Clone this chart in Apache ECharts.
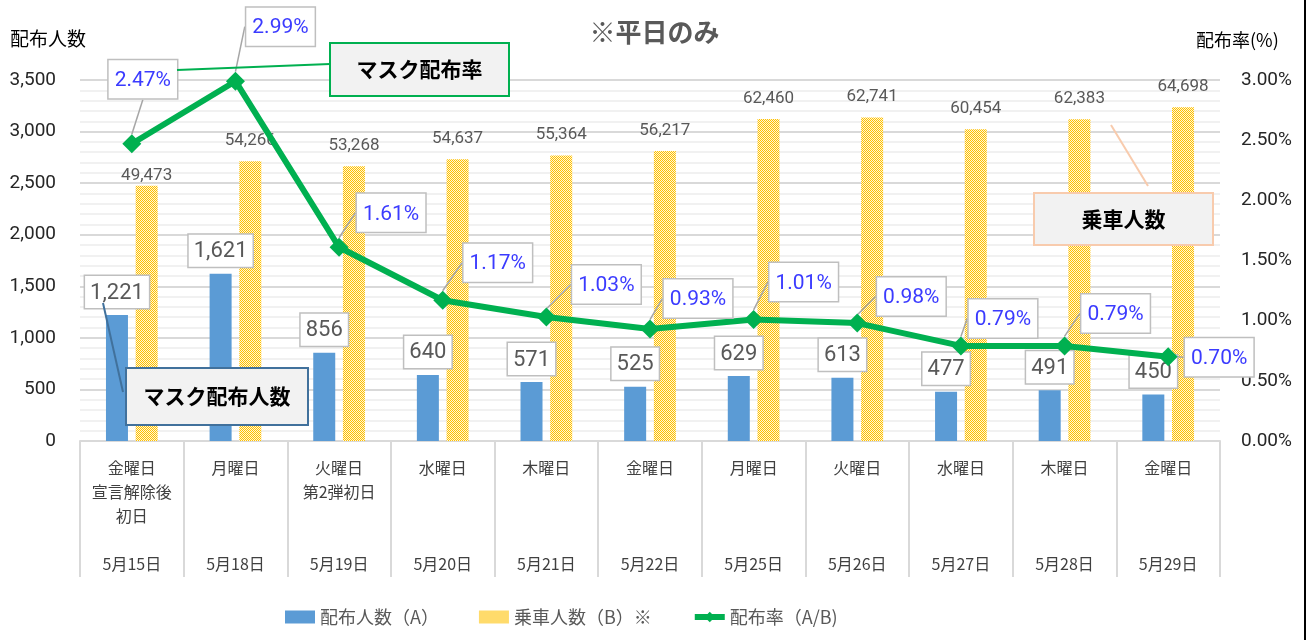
<!DOCTYPE html>
<html>
<head>
<meta charset="utf-8">
<title>マスク配布</title>
<script src="https://cdn.jsdelivr.net/npm/echarts@6/dist/echarts.min.js"></script>
<style>
    html, body { margin: 0; padding: 0; background: #fff; }
    #chart { width: 1309px; height: 644px; }
</style>
</head>
<body>
<div id="chart"></div>
<script>
    // データ
    const dates = ['5月15日', '5月18日', '5月19日', '5月20日', '5月21日', '5月22日', '5月25日', '5月26日', '5月27日', '5月28日', '5月29日'];
    const days = ['金曜日\n宣言解除後\n初日', '月曜日', '火曜日\n第2弾初日', '水曜日', '木曜日', '金曜日', '月曜日', '火曜日', '水曜日', '木曜日', '金曜日'];
    const maskCount = [1221, 1621, 856, 640, 571, 525, 629, 613, 477, 491, 450];
    const riders = [49473, 54266, 53268, 54637, 55364, 56217, 62460, 62741, 60454, 62383, 64698];
    const rate = [2.47, 2.99, 1.61, 1.17, 1.03, 0.93, 1.01, 0.98, 0.79, 0.79, 0.70];
    const countTicks = { min: 0, max: 3500, interval: 500 };
    const rateTicks = { min: 0, max: 3, interval: 0.5 };

    const font = '"Noto Sans CJK JP", "Noto Sans", sans-serif';
    const numFont = 'Roboto, "Noto Sans", sans-serif';

    function comma(v) {
        return String(v).replace(/\B(?=(\d{3})+(?!\d))/g, ',');
    }

    // 乗車人数の網掛け
    const dots = document.createElement('canvas');
    dots.width = 2;
    dots.height = 2;
    const dctx = dots.getContext('2d');
    dctx.fillStyle = '#fff6d6';
    dctx.fillRect(0, 0, 2, 2);
    dctx.fillStyle = '#ffc000';
    dctx.fillRect(0, 0, 1, 1);
    dctx.fillRect(1, 1, 1, 1);

    // ラベルの位置調整 (点からのずれ)
    const rateShift = [[11, -65], [45, -55], [52, -35], [55, -38], [60, -33], [48, -31], [50, -38], [54, -27], [42, -28], [51, -33], [51, 0]];

    const chart = echarts.init(document.getElementById('chart'));

    function annotation(x, y, w, h, text, border) {
        return [
            {
                type: 'rect',
                z: 100,
                shape: { x: x, y: y, width: w, height: h },
                style: { fill: '#f2f2f2', stroke: border, lineWidth: 2 }
            },
            {
                type: 'text',
                z: 101,
                x: x + w / 2,
                y: y + h / 2,
                style: {
                    text: text,
                    fontSize: 21,
                    fontWeight: 'bold',
                    fontFamily: font,
                    fill: '#000',
                    align: 'center',
                    verticalAlign: 'middle'
                }
            }
        ];
    }

    chart.setOption({
        backgroundColor: '#fff',
        animation: false,
        title: {
            text: '※平日のみ',
            left: 'center',
            top: 14,
            textStyle: {
                fontSize: 26,
                fontWeight: 'bold',
                color: '#595959',
                fontFamily: font
            }
        },
        legend: {
            left: 280,
            top: 603,
            itemWidth: 30,
            itemHeight: 13,
            itemGap: 40,
            textStyle: {
                fontSize: 18,
                color: '#595959',
                fontFamily: font
            },
            data: [
                { name: '配布人数（A）', icon: 'rect' },
                { name: '乗車人数（B）※', icon: 'rect' },
                { name: '配布率（A/B)', lineStyle: { width: 6 } }
            ]
        },
        grid: {
            left: 80,
            right: 89,
            top: 80,
            bottom: 203
        },
        xAxis: {
            type: 'category',
            data: dates,
            axisLine: {
                lineStyle: { color: '#d9d9d9', width: 2 }
            },
            axisTick: {
                show: true,
                length: 136,
                lineStyle: { color: '#d9d9d9', width: 2 }
            },
            axisLabel: {
                margin: 15,
                interval: 0,
                fontSize: 16,
                lineHeight: 24,
                color: '#404040',
                fontFamily: font,
                formatter: function (value, index) {
                    const lines = days[index].split('\n');
                    while (lines.length < 4) {
                        lines.push('');
                    }
                    lines.push(value);
                    return lines.join('\n');
                }
            }
        },
        yAxis: [
            {
                type: 'value',
                min: countTicks.min,
                max: countTicks.max,
                interval: countTicks.interval,
                axisLine: { show: false },
                axisTick: { show: false },
                axisLabel: {
                    margin: 24,
                    fontSize: 19,
                    color: '#262626',
                    fontFamily: numFont,
                    formatter: comma
                },
                splitLine: {
                    lineStyle: { color: '#d9d9d9', width: 2 }
                },
                minorTick: { show: false, splitNumber: 5 },
                minorSplitLine: {
                    show: true,
                    lineStyle: { color: '#ededed', width: 1.5 }
                }
            },
            {
                type: 'value',
                position: 'right',
                min: rateTicks.min,
                max: rateTicks.max,
                interval: rateTicks.interval,
                axisLine: { show: false },
                axisTick: { show: false },
                splitLine: { show: false },
                axisLabel: {
                    margin: 21,
                    fontSize: 19,
                    color: '#262626',
                    fontFamily: numFont,
                    formatter: function (v) {
                        return v.toFixed(2) + '%';
                    }
                }
            },
            {
                type: 'value',
                show: false,
                min: 0,
                max: 70000,
                splitLine: { show: false }
            }
        ],
        series: [
            {
                name: '配布人数（A）',
                type: 'bar',
                yAxisIndex: 0,
                barWidth: 22,
                barGap: '35%',
                itemStyle: { color: '#5b9bd5' },
                label: {
                    show: true,
                    position: 'top',
                    distance: 7,
                    formatter: function (p) {
                        return comma(p.value);
                    },
                    fontSize: 22,
                    color: '#595959',
                    fontFamily: numFont,
                    backgroundColor: '#fff',
                    borderColor: '#bfbfbf',
                    borderWidth: 1.5,
                    padding: [6, 5, 4, 5]
                },
                data: maskCount
            },
            {
                name: '乗車人数（B）※',
                type: 'bar',
                yAxisIndex: 2,
                barWidth: 22,
                itemStyle: {
                    color: { image: dots, repeat: 'repeat' }
                },
                label: {
                    show: true,
                    position: 'top',
                    distance: 12,
                    formatter: function (p) {
                        return comma(p.value);
                    },
                    fontSize: 17,
                    color: '#595959',
                    fontFamily: numFont
                },
                labelLayout: function (p) {
                    return p.dataIndex === 0 ? { dy: 10 } : {};
                },
                data: riders
            },
            {
                name: '配布率（A/B)',
                type: 'line',
                yAxisIndex: 1,
                z: 5,
                symbol: 'diamond',
                symbolSize: 19,
                lineStyle: { color: '#00b050', width: 6 },
                itemStyle: { color: '#00b050' },
                label: {
                    show: true,
                    position: 'top',
                    distance: 0,
                    formatter: function (p) {
                        return p.value.toFixed(2) + '%';
                    },
                    fontSize: 21,
                    color: '#3b3bff',
                    fontFamily: numFont,
                    backgroundColor: '#fff',
                    borderColor: '#bfbfbf',
                    borderWidth: 1.5,
                    padding: [10, 6, 7, 6]
                },
                labelLine: {
                    show: true,
                    lineStyle: { color: '#a6a6a6', width: 1.5 }
                },
                labelLayout: function (p) {
                    const s = rateShift[p.dataIndex];
                    return { dx: s[0], dy: s[1] + 29 };
                },
                data: rate
            }
        ],
        graphic: [
            {
                type: 'text',
                left: 10,
                top: 29,
                style: {
                    text: '配布人数',
                    fontSize: 19,
                    fontFamily: font,
                    fill: '#000'
                }
            },
            {
                type: 'text',
                left: 1196,
                top: 31,
                style: {
                    text: '配布率(%)',
                    fontSize: 18,
                    fontFamily: font,
                    fill: '#000'
                }
            },
            {
                type: 'line',
                z: 99,
                shape: { x1: 177, y1: 70, x2: 330, y2: 64 },
                style: { stroke: '#00b050', lineWidth: 2 }
            },
            {
                type: 'line',
                z: 99,
                shape: { x1: 103, y1: 303, x2: 123, y2: 392 },
                style: { stroke: '#41719c', lineWidth: 2 }
            },
            {
                type: 'line',
                z: 99,
                shape: { x1: 1111, y1: 125, x2: 1148, y2: 186 },
                style: { stroke: '#f8cbad', lineWidth: 2 }
            }
        ].concat(
            annotation(330, 43, 179, 53, 'マスク配布率', '#00b050'),
            annotation(126, 368, 182, 57, 'マスク配布人数', '#41719c'),
            annotation(1034, 193, 179, 52, '乗車人数', '#f8cbad'),
            [{
                type: 'line',
                shape: { x1: 1305, y1: 0, x2: 1305, y2: 640 },
                style: { stroke: '#000', lineWidth: 2 }
            }]
        )
    });
</script>
</body>
</html>
